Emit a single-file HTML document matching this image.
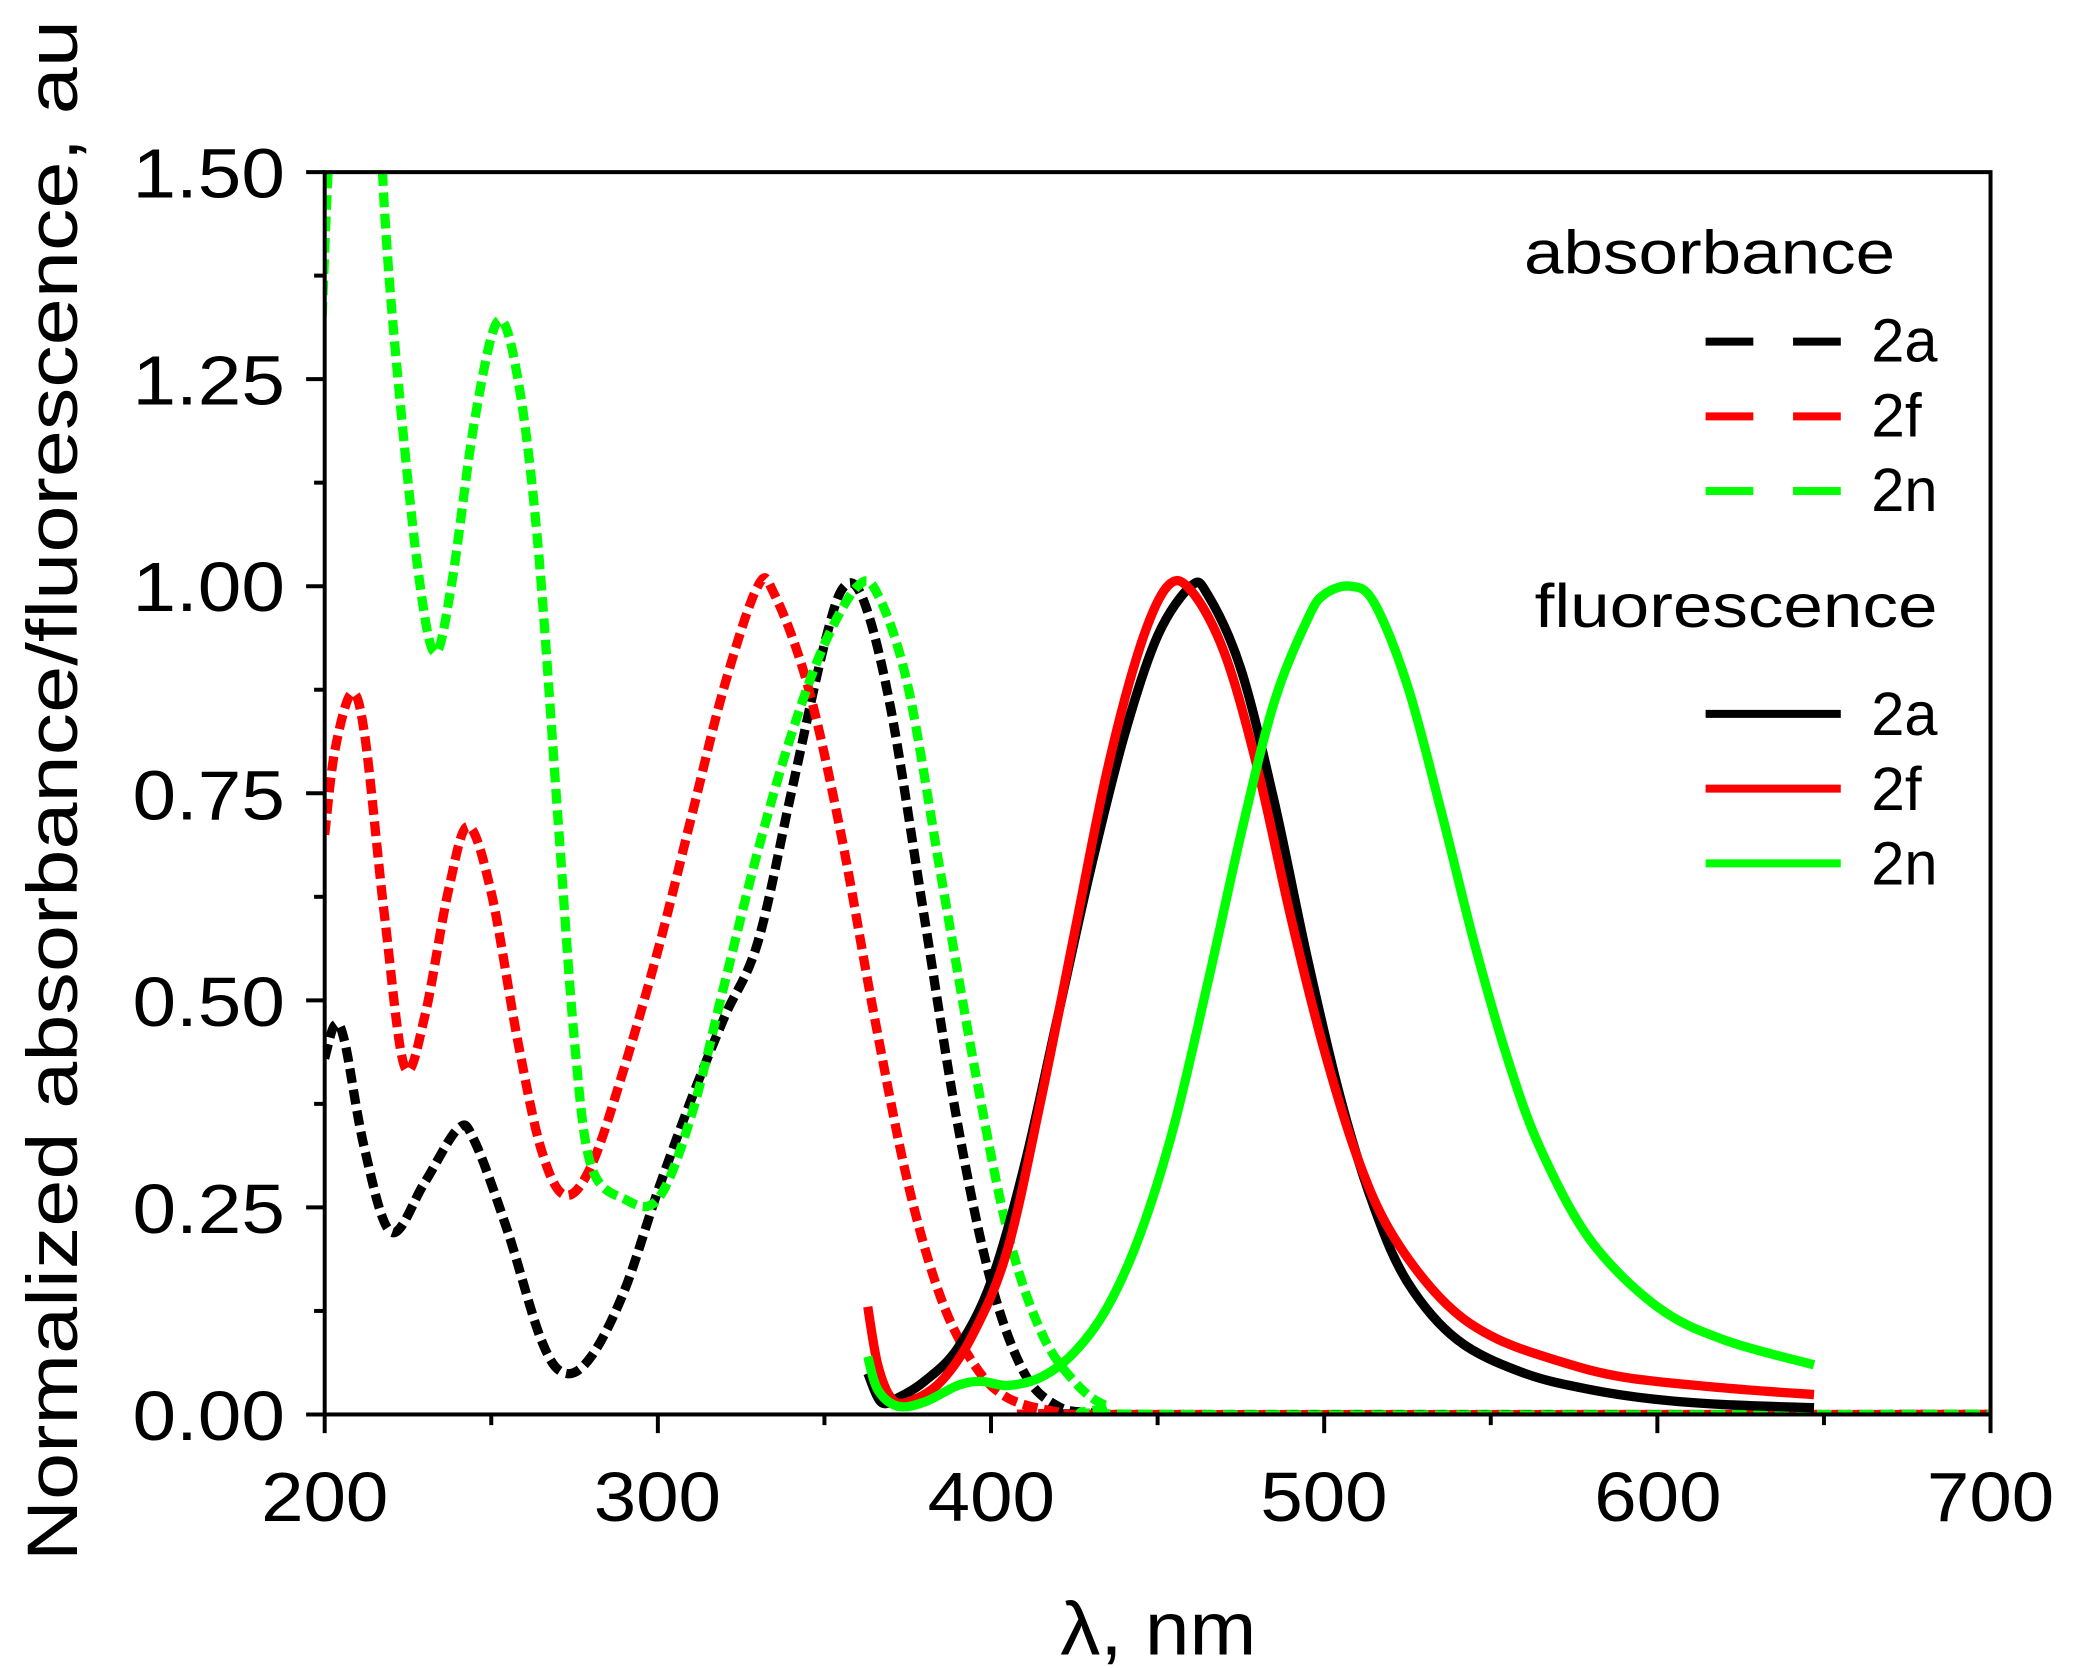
<!DOCTYPE html>
<html><head><meta charset="utf-8">
<style>
html,body{margin:0;padding:0;background:#fff;}
svg{display:block;}
text{font-family:"Liberation Sans",Arial,sans-serif;fill:#000;}
</style></head>
<body>
<svg id="s" width="2078" height="1668" viewBox="0 0 1568 1250" preserveAspectRatio="none" xmlns="http://www.w3.org/2000/svg">
<defs><clipPath id="c"><rect x="245" y="129" width="1257" height="932"/></clipPath></defs>
<g id="curves" clip-path="url(#c)"></g>
<rect x="245" y="129" width="1257" height="931" fill="none" stroke="#000" stroke-width="3"/>
<g id="ticks" stroke="#000" stroke-width="3"></g>
<g font-size="52" text-anchor="start" lengthAdjust="spacingAndGlyphs">
<text x="100" y="1079" textLength="115" lengthAdjust="spacingAndGlyphs">0.00</text>
<text x="100" y="924" textLength="115" lengthAdjust="spacingAndGlyphs">0.25</text>
<text x="100" y="769" textLength="115" lengthAdjust="spacingAndGlyphs">0.50</text>
<text x="100" y="614" textLength="115" lengthAdjust="spacingAndGlyphs">0.75</text>
<text x="100" y="458" textLength="115" lengthAdjust="spacingAndGlyphs">1.00</text>
<text x="100" y="303" textLength="115" lengthAdjust="spacingAndGlyphs">1.25</text>
<text x="100" y="148" textLength="115" lengthAdjust="spacingAndGlyphs">1.50</text>
</g>
<g font-size="52">
<text x="197" y="1140" textLength="96" lengthAdjust="spacingAndGlyphs">200</text>
<text x="448" y="1140" textLength="96" lengthAdjust="spacingAndGlyphs">300</text>
<text x="700" y="1140" textLength="96" lengthAdjust="spacingAndGlyphs">400</text>
<text x="951" y="1140" textLength="96" lengthAdjust="spacingAndGlyphs">500</text>
<text x="1203" y="1140" textLength="96" lengthAdjust="spacingAndGlyphs">600</text>
<text x="1454" y="1140" textLength="96" lengthAdjust="spacingAndGlyphs">700</text>
</g>
<text x="800" y="1240" font-size="56" textLength="148" lengthAdjust="spacingAndGlyphs">λ, nm</text>
<text transform="translate(58,1170) rotate(-90)" font-size="54" textLength="1155" lengthAdjust="spacingAndGlyphs">Normalized  absorbance/fluorescence, au</text>
<g font-size="46">
<text x="1150" y="205" textLength="280" lengthAdjust="spacingAndGlyphs">absorbance</text>
<text x="1158" y="470" textLength="304" lengthAdjust="spacingAndGlyphs">fluorescence</text>
<text x="1412" y="271" textLength="50" lengthAdjust="spacingAndGlyphs">2a</text>
<text x="1412" y="327" textLength="38" lengthAdjust="spacingAndGlyphs">2f</text>
<text x="1412" y="383" textLength="50" lengthAdjust="spacingAndGlyphs">2n</text>
<text x="1412" y="551" textLength="50" lengthAdjust="spacingAndGlyphs">2a</text>
<text x="1412" y="607" textLength="38" lengthAdjust="spacingAndGlyphs">2f</text>
<text x="1412" y="663" textLength="50" lengthAdjust="spacingAndGlyphs">2n</text>
</g>
<g stroke-width="6" stroke-dasharray="36 30">
<line x1="1287" y1="256" x2="1389" y2="256" stroke="#000"/>
<line x1="1287" y1="312" x2="1389" y2="312" stroke="#f00"/>
<line x1="1287" y1="368" x2="1389" y2="368" stroke="#0f0"/>
</g>
<g stroke-width="6">
<line x1="1287" y1="535" x2="1389" y2="535" stroke="#000"/>
<line x1="1287" y1="591" x2="1389" y2="591" stroke="#f00"/>
<line x1="1287" y1="647" x2="1389" y2="647" stroke="#0f0"/>
</g>
</svg>
<script>
var X=function(w){return 245+(w-200)*2.514;},Y=function(v){return 1060-v*620.7;};
function path(pts){var p=pts.map(function(a){return [X(a[0]),Y(a[1])];});
var d="M"+p[0][0].toFixed(1)+","+p[0][1].toFixed(1);
for(var i=0;i<p.length-1;i++){var p0=p[i-1]||p[i],p1=p[i],p2=p[i+1],p3=p[i+2]||p2;
var c1=[p1[0]+(p2[0]-p0[0])/6,p1[1]+(p2[1]-p0[1])/6],c2=[p2[0]-(p3[0]-p1[0])/6,p2[1]-(p3[1]-p1[1])/6];
d+=" C"+c1[0].toFixed(1)+","+c1[1].toFixed(1)+" "+c2[0].toFixed(1)+","+c2[1].toFixed(1)+" "+p2[0].toFixed(1)+","+p2[1].toFixed(1);}
return d;}
var ab={"#000":[[200,0.43],[203,0.47],[206,0.45],[212,0.32],[220,0.22],[230,0.28],[240,0.345],[245,0.33],[255,0.22],[265,0.09],[272,0.05],[280,0.07],[290,0.15],[300,0.27],[310,0.38],[320,0.48],[330,0.57],[340,0.75],[350,0.93],[356,1.0],[362,0.98],[370,0.85],[380,0.6],[390,0.35],[400,0.16],[410,0.05],[420,0.01],[430,0.002],[440,0],[700,0]],
"#f00":[[200,0.7],[203,0.8],[208,0.87],[212,0.82],[218,0.6],[224,0.42],[230,0.48],[237,0.63],[243,0.71],[250,0.63],[258,0.45],[265,0.32],[272,0.265],[280,0.3],[290,0.42],[300,0.56],[310,0.72],[320,0.88],[330,1.0],[335,0.99],[345,0.88],[355,0.7],[365,0.48],[375,0.28],[385,0.14],[395,0.06],[405,0.02],[420,0.003],[430,0],[700,0]],
"#0f0":[[199,1.3],[201,1.5],[204,1.75],[210,1.9],[215,1.7],[218,1.45],[222,1.25],[228,1.02],[233,0.92],[238,1.0],[245,1.2],[252,1.32],[258,1.25],[264,1.05],[270,0.72],[275,0.45],[280,0.3],[290,0.26],[300,0.26],[310,0.36],[320,0.52],[330,0.68],[340,0.82],[350,0.93],[360,1.0],[366,0.99],[375,0.88],[385,0.65],[395,0.42],[405,0.22],[415,0.1],[425,0.04],[435,0.01],[450,0],[700,0]]};
var fl={"#000":[[363,0.05],[367,0.015],[372,0.02],[380,0.04],[390,0.08],[400,0.16],[410,0.3],[420,0.48],[430,0.66],[440,0.82],[450,0.94],[460,1.0],[465,0.99],[475,0.9],[485,0.74],[495,0.55],[505,0.38],[515,0.25],[525,0.16],[540,0.09],[560,0.05],[580,0.03],[600,0.018],[620,0.012],[647,0.008]],
"#f00":[[363,0.13],[366,0.06],[370,0.02],[375,0.015],[385,0.04],[395,0.1],[405,0.2],[415,0.38],[425,0.58],[435,0.78],[445,0.93],[453,1.0],[460,0.995],[470,0.92],[480,0.78],[490,0.6],[500,0.44],[510,0.31],[520,0.22],[535,0.14],[550,0.095],[570,0.065],[590,0.045],[620,0.032],[647,0.024]],
"#0f0":[[363,0.07],[366,0.03],[372,0.01],[380,0.015],[390,0.035],[397,0.04],[405,0.035],[415,0.045],[425,0.075],[435,0.13],[445,0.22],[455,0.35],[465,0.52],[475,0.7],[485,0.86],[495,0.96],[500,0.99],[508,1.0],[515,0.98],[525,0.88],[535,0.73],[545,0.57],[555,0.43],[565,0.32],[580,0.21],[600,0.13],[620,0.09],[647,0.06]]};
var h="";
for(var k in ab)h+='<path d="'+path(ab[k])+'" fill="none" stroke="'+k+'" stroke-width="7" stroke-dasharray="11 5"/>';
for(var k in fl)h+='<path d="'+path(fl[k])+'" fill="none" stroke="'+k+'" stroke-width="7"/>';
document.getElementById("curves").innerHTML=h;
var t="";
for(var i=0;i<=12;i++){var y=Y(i*0.125),l=(i%2==0)?14:8;t+='<line x1="'+(245-l)+'" y1="'+y+'" x2="245" y2="'+y+'"/>';}
for(var i=0;i<=10;i++){var x=X(200+i*50),l=(i%2==0)?14:8;t+='<line x1="'+x+'" y1="1060" x2="'+x+'" y2="'+(1060+l)+'"/>';}
document.getElementById("ticks").innerHTML=t;
</script>
</body></html>
